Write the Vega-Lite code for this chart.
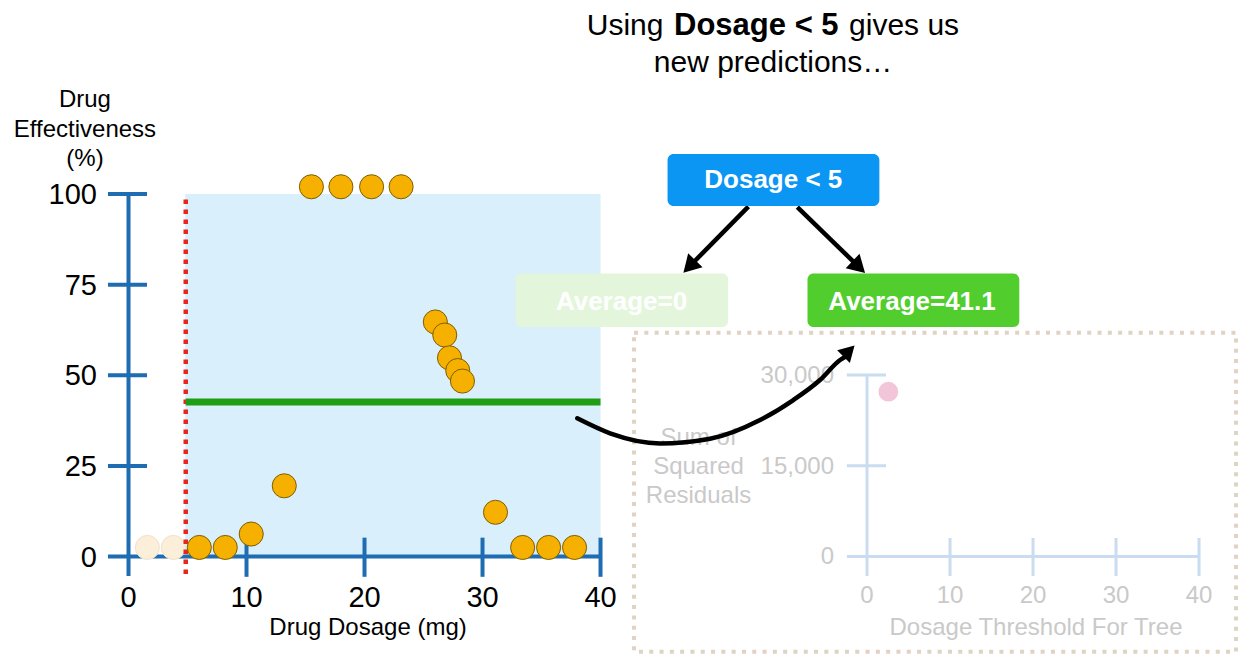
{
  "$schema": "https://vega.github.io/schema/vega-lite/v6.json",
  "width": 1248,
  "height": 669,
  "autosize": {"type": "fit", "contains": "padding"},
  "padding": 0,
  "background": "#ffffff",
  "config": {"view": {"stroke": null}, "font": "Liberation Sans"},
  "datasets": {
    "one": [{}],
    "drug": [
      {"dosage": 1.6, "effectiveness": 2.5},
      {"dosage": 3.8, "effectiveness": 2.5},
      {"dosage": 6.0, "effectiveness": 2.5},
      {"dosage": 8.2, "effectiveness": 2.5},
      {"dosage": 10.4, "effectiveness": 6.2},
      {"dosage": 13.2, "effectiveness": 19.5},
      {"dosage": 15.5, "effectiveness": 102},
      {"dosage": 18.0, "effectiveness": 102},
      {"dosage": 20.6, "effectiveness": 102},
      {"dosage": 23.1, "effectiveness": 102},
      {"dosage": 26.0, "effectiveness": 64.7},
      {"dosage": 26.8, "effectiveness": 61.1},
      {"dosage": 27.2, "effectiveness": 54.8},
      {"dosage": 27.9, "effectiveness": 51.3},
      {"dosage": 28.3, "effectiveness": 48.4},
      {"dosage": 31.1, "effectiveness": 12.2},
      {"dosage": 33.4, "effectiveness": 2.5},
      {"dosage": 35.6, "effectiveness": 2.5},
      {"dosage": 37.8, "effectiveness": 2.5}
    ],
    "ssr": [{"threshold": 2.57, "ssr": 27240}],
    "curve": [
      {"x": 38.03, "y": 38.12},
      {"x": 40.81, "y": 33.99},
      {"x": 45.04, "y": 31.2},
      {"x": 49.28, "y": 32.5},
      {"x": 53.52, "y": 37.66},
      {"x": 56.34, "y": 43.17},
      {"x": 58.6, "y": 48.69},
      {"x": 60.3, "y": 54.21},
      {"x": 60.9, "y": 55.4}
    ]
  },
  "resolve": {"scale": {"x": "independent", "y": "independent"}},
  "layer": [
    {
      "layer": [
        {
          "data": {"name": "one"},
          "mark": {"type": "rect", "color": "#d9effc"},
          "encoding": {
            "x": {"datum": 4.8, "type": "quantitative", "scale": {"domain": [-10.89, 94.87], "nice": false, "zero": false}, "axis": null},
            "x2": {"datum": 40},
            "y": {"datum": 0, "type": "quantitative", "scale": {"domain": [-31.03, 153.52], "nice": false, "zero": false}, "axis": null},
            "y2": {"datum": 100}
          }
        },
        {
          "data": {"name": "one"},
          "mark": {"type": "rule", "color": "#1e6db3", "strokeWidth": 4},
          "encoding": {
            "x": {"datum": 0, "type": "quantitative", "scale": {"domain": [-10.89, 94.87], "nice": false, "zero": false}, "axis": null},
            "y": {"datum": -5.4, "type": "quantitative", "scale": {"domain": [-31.03, 153.52], "nice": false, "zero": false}, "axis": null},
            "y2": {"datum": 100}
          }
        },
        {
          "data": {"name": "one"},
          "mark": {"type": "rule", "color": "#1e6db3", "strokeWidth": 4},
          "encoding": {
            "x": {"datum": -1.74, "type": "quantitative", "scale": {"domain": [-10.89, 94.87], "nice": false, "zero": false}, "axis": null},
            "x2": {"datum": 40},
            "y": {"datum": 0, "type": "quantitative", "scale": {"domain": [-31.03, 153.52], "nice": false, "zero": false}, "axis": null}
          }
        },
        {
          "data": {"values": [{"effectiveness": 25}, {"effectiveness": 50}, {"effectiveness": 75}, {"effectiveness": 100}]},
          "mark": {"type": "rule", "color": "#1e6db3", "strokeWidth": 4},
          "encoding": {
            "x": {"datum": -1.74, "type": "quantitative", "scale": {"domain": [-10.89, 94.87], "nice": false, "zero": false}, "axis": null},
            "x2": {"datum": 1.57},
            "y": {"field": "effectiveness", "type": "quantitative", "scale": {"domain": [-31.03, 153.52], "nice": false, "zero": false}, "axis": null}
          }
        },
        {
          "data": {"values": [{"dosage": 10}, {"dosage": 20}, {"dosage": 30}, {"dosage": 40}]},
          "mark": {"type": "rule", "color": "#1e6db3", "strokeWidth": 4},
          "encoding": {
            "x": {"field": "dosage", "type": "quantitative", "scale": {"domain": [-10.89, 94.87], "nice": false, "zero": false}, "axis": null},
            "y": {"datum": -5.6, "type": "quantitative", "scale": {"domain": [-31.03, 153.52], "nice": false, "zero": false}, "axis": null},
            "y2": {"datum": 5.2}
          }
        },
        {
          "data": {"name": "drug"},
          "transform": [{"filter": "datum.dosage < 5"}],
          "mark": {"type": "point", "filled": true, "opacity": 1, "fill": "#fcefd9", "stroke": "#f0e2c8", "strokeWidth": 1, "size": 580},
          "encoding": {
            "x": {"field": "dosage", "type": "quantitative", "scale": {"domain": [-10.89, 94.87], "nice": false, "zero": false}, "axis": null},
            "y": {"field": "effectiveness", "type": "quantitative", "scale": {"domain": [-31.03, 153.52], "nice": false, "zero": false}, "axis": null}
          }
        },
        {
          "data": {"name": "one"},
          "mark": {"type": "rule", "color": "#e8261d", "strokeWidth": 4.5, "strokeDash": [4.5, 5.5]},
          "encoding": {
            "x": {"datum": 4.85, "type": "quantitative", "scale": {"domain": [-10.89, 94.87], "nice": false, "zero": false}, "axis": null},
            "y": {"datum": -4.8, "type": "quantitative", "scale": {"domain": [-31.03, 153.52], "nice": false, "zero": false}, "axis": null},
            "y2": {"datum": 99}
          }
        },
        {
          "data": {"name": "one"},
          "mark": {"type": "rule", "color": "#1f9e14", "strokeWidth": 7},
          "encoding": {
            "x": {"datum": 4.85, "type": "quantitative", "scale": {"domain": [-10.89, 94.87], "nice": false, "zero": false}, "axis": null},
            "x2": {"datum": 40},
            "y": {"datum": 42.6, "type": "quantitative", "scale": {"domain": [-31.03, 153.52], "nice": false, "zero": false}, "axis": null}
          }
        },
        {
          "data": {"name": "drug"},
          "transform": [{"filter": "datum.dosage >= 5"}],
          "mark": {"type": "point", "filled": true, "opacity": 1, "fill": "#f5b000", "stroke": "#7d5e00", "strokeWidth": 1, "size": 580},
          "encoding": {
            "x": {"field": "dosage", "type": "quantitative", "scale": {"domain": [-10.89, 94.87], "nice": false, "zero": false}, "axis": null},
            "y": {"field": "effectiveness", "type": "quantitative", "scale": {"domain": [-31.03, 153.52], "nice": false, "zero": false}, "axis": null}
          }
        },
        {
          "data": {"values": [{"effectiveness": 0}, {"effectiveness": 25}, {"effectiveness": 50}, {"effectiveness": 75}, {"effectiveness": 100}]},
          "mark": {"type": "text", "align": "right", "baseline": "alphabetic", "dy": 10, "fontSize": 29, "color": "#000000"},
          "encoding": {
            "x": {"datum": -2.67, "type": "quantitative", "scale": {"domain": [-10.89, 94.87], "nice": false, "zero": false}, "axis": null},
            "y": {"field": "effectiveness", "type": "quantitative", "scale": {"domain": [-31.03, 153.52], "nice": false, "zero": false}, "axis": null},
            "text": {"field": "effectiveness", "type": "quantitative", "format": "d"}
          }
        },
        {
          "data": {"values": [{"dosage": 0}, {"dosage": 10}, {"dosage": 20}, {"dosage": 30}, {"dosage": 40}]},
          "mark": {"type": "text", "align": "center", "baseline": "alphabetic", "fontSize": 29, "color": "#000000"},
          "encoding": {
            "x": {"field": "dosage", "type": "quantitative", "scale": {"domain": [-10.89, 94.87], "nice": false, "zero": false}, "axis": null},
            "y": {"datum": -13.9, "type": "quantitative", "scale": {"domain": [-31.03, 153.52], "nice": false, "zero": false}, "axis": null},
            "text": {"field": "dosage", "type": "quantitative", "format": "d"}
          }
        },
        {
          "data": {"name": "one"},
          "mark": {"type": "text", "align": "center", "baseline": "alphabetic", "fontSize": 24, "color": "#000000"},
          "encoding": {
            "x": {"datum": 20.3, "type": "quantitative", "scale": {"domain": [-10.89, 94.87], "nice": false, "zero": false}, "axis": null},
            "y": {"datum": -21.66, "type": "quantitative", "scale": {"domain": [-31.03, 153.52], "nice": false, "zero": false}, "axis": null},
            "text": {"value": "Drug Dosage (mg)"}
          }
        },
        {
          "data": {"name": "one"},
          "mark": {"type": "text", "align": "center", "baseline": "alphabetic", "fontSize": 24, "lineHeight": 29.4, "color": "#000000"},
          "encoding": {
            "x": {"datum": -3.69, "type": "quantitative", "scale": {"domain": [-10.89, 94.87], "nice": false, "zero": false}, "axis": null},
            "y": {"datum": 123.92, "type": "quantitative", "scale": {"domain": [-31.03, 153.52], "nice": false, "zero": false}, "axis": null},
            "text": {"value": ["Drug", "Effectiveness", "(%)"]}
          }
        }
      ]
    },
    {
      "layer": [
        {
          "data": {"name": "one"},
          "mark": {"type": "rect", "fill": "#ffffff", "fillOpacity": 0, "stroke": "#e0d3c2", "strokeWidth": 4, "strokeDash": [4, 6.3]},
          "encoding": {
            "x": {"datum": -28.07, "type": "quantitative", "scale": {"domain": [-104.46, 45.9], "nice": false, "zero": false}, "axis": null},
            "x2": {"datum": 44.46},
            "y": {"datum": 36992, "type": "quantitative", "scale": {"domain": [-18595, 91983], "nice": false, "zero": false}, "axis": null},
            "y2": {"datum": -15736}
          }
        },
        {
          "data": {"name": "one"},
          "mark": {"type": "rule", "color": "#c9dcf0", "strokeWidth": 3},
          "encoding": {
            "x": {"datum": 0, "type": "quantitative", "scale": {"domain": [-104.46, 45.9], "nice": false, "zero": false}, "axis": null},
            "y": {"datum": -3223, "type": "quantitative", "scale": {"domain": [-18595, 91983], "nice": false, "zero": false}, "axis": null},
            "y2": {"datum": 30000}
          }
        },
        {
          "data": {"name": "one"},
          "mark": {"type": "rule", "color": "#c9dcf0", "strokeWidth": 3},
          "encoding": {
            "x": {"datum": -2.43, "type": "quantitative", "scale": {"domain": [-104.46, 45.9], "nice": false, "zero": false}, "axis": null},
            "x2": {"datum": 40},
            "y": {"datum": 0, "type": "quantitative", "scale": {"domain": [-18595, 91983], "nice": false, "zero": false}, "axis": null}
          }
        },
        {
          "data": {"values": [{"ssr": 15000}, {"ssr": 30000}]},
          "mark": {"type": "rule", "color": "#c9dcf0", "strokeWidth": 3},
          "encoding": {
            "x": {"datum": -2.43, "type": "quantitative", "scale": {"domain": [-104.46, 45.9], "nice": false, "zero": false}, "axis": null},
            "x2": {"datum": 2.29},
            "y": {"field": "ssr", "type": "quantitative", "scale": {"domain": [-18595, 91983], "nice": false, "zero": false}, "axis": null}
          }
        },
        {
          "data": {"values": [{"threshold": 10}, {"threshold": 20}, {"threshold": 30}, {"threshold": 40}]},
          "mark": {"type": "rule", "color": "#c9dcf0", "strokeWidth": 3},
          "encoding": {
            "x": {"field": "threshold", "type": "quantitative", "scale": {"domain": [-104.46, 45.9], "nice": false, "zero": false}, "axis": null},
            "y": {"datum": -3223, "type": "quantitative", "scale": {"domain": [-18595, 91983], "nice": false, "zero": false}, "axis": null},
            "y2": {"datum": 3058}
          }
        },
        {
          "data": {"name": "ssr"},
          "mark": {"type": "point", "filled": true, "opacity": 1, "fill": "#f3c5d9", "strokeWidth": 0, "size": 390},
          "encoding": {
            "x": {"field": "threshold", "type": "quantitative", "scale": {"domain": [-104.46, 45.9], "nice": false, "zero": false}, "axis": null},
            "y": {"field": "ssr", "type": "quantitative", "scale": {"domain": [-18595, 91983], "nice": false, "zero": false}, "axis": null}
          }
        },
        {
          "data": {"values": [{"ssr": 0}, {"ssr": 15000}, {"ssr": 30000}]},
          "mark": {"type": "text", "align": "right", "baseline": "alphabetic", "dy": 8, "fontSize": 24, "color": "#c9c9c9"},
          "encoding": {
            "x": {"datum": -3.98, "type": "quantitative", "scale": {"domain": [-104.46, 45.9], "nice": false, "zero": false}, "axis": null},
            "y": {"field": "ssr", "type": "quantitative", "scale": {"domain": [-18595, 91983], "nice": false, "zero": false}, "axis": null},
            "text": {"field": "ssr", "type": "quantitative", "format": ","}
          }
        },
        {
          "data": {"values": [{"threshold": 0}, {"threshold": 10}, {"threshold": 20}, {"threshold": 30}, {"threshold": 40}]},
          "mark": {"type": "text", "align": "center", "baseline": "alphabetic", "fontSize": 24, "color": "#c9c9c9"},
          "encoding": {
            "x": {"field": "threshold", "type": "quantitative", "scale": {"domain": [-104.46, 45.9], "nice": false, "zero": false}, "axis": null},
            "y": {"datum": -7736, "type": "quantitative", "scale": {"domain": [-18595, 91983], "nice": false, "zero": false}, "axis": null},
            "text": {"field": "threshold", "type": "quantitative", "format": "d"}
          }
        },
        {
          "data": {"name": "one"},
          "mark": {"type": "text", "align": "center", "baseline": "alphabetic", "fontSize": 24, "color": "#c9c9c9"},
          "encoding": {
            "x": {"datum": 20.36, "type": "quantitative", "scale": {"domain": [-104.46, 45.9], "nice": false, "zero": false}, "axis": null},
            "y": {"datum": -12975, "type": "quantitative", "scale": {"domain": [-18595, 91983], "nice": false, "zero": false}, "axis": null},
            "text": {"value": "Dosage Threshold For Tree"}
          }
        },
        {
          "data": {"name": "one"},
          "mark": {"type": "text", "align": "center", "baseline": "alphabetic", "fontSize": 24, "lineHeight": 29, "color": "#c9c9c9"},
          "encoding": {
            "x": {"datum": -20.3, "type": "quantitative", "scale": {"domain": [-104.46, 45.9], "nice": false, "zero": false}, "axis": null},
            "y": {"datum": 18430, "type": "quantitative", "scale": {"domain": [-18595, 91983], "nice": false, "zero": false}, "axis": null},
            "text": {"value": ["Sum of", "Squared", "Residuals"]}
          }
        }
      ]
    },
    {
      "layer": [
        {
          "data": {"name": "one"},
          "mark": {"type": "text", "align": "left", "baseline": "alphabetic", "fontSize": 30, "color": "#000000"},
          "encoding": {
            "x": {"datum": 38.83, "type": "quantitative", "scale": {"domain": [-10.89, 94.87], "nice": false, "zero": false}, "axis": null},
            "y": {"datum": 143.86, "type": "quantitative", "scale": {"domain": [-31.03, 153.52], "nice": false, "zero": false}, "axis": null},
            "text": {"value": "Using"}
          }
        },
        {
          "data": {"name": "one"},
          "mark": {"type": "text", "align": "left", "baseline": "alphabetic", "fontSize": 31, "fontWeight": "bold", "color": "#000000"},
          "encoding": {
            "x": {"datum": 46.23, "type": "quantitative", "scale": {"domain": [-10.89, 94.87], "nice": false, "zero": false}, "axis": null},
            "y": {"datum": 143.86, "type": "quantitative", "scale": {"domain": [-31.03, 153.52], "nice": false, "zero": false}, "axis": null},
            "text": {"value": "Dosage < 5"}
          }
        },
        {
          "data": {"name": "one"},
          "mark": {"type": "text", "align": "left", "baseline": "alphabetic", "fontSize": 30, "color": "#000000"},
          "encoding": {
            "x": {"datum": 61.06, "type": "quantitative", "scale": {"domain": [-10.89, 94.87], "nice": false, "zero": false}, "axis": null},
            "y": {"datum": 143.86, "type": "quantitative", "scale": {"domain": [-31.03, 153.52], "nice": false, "zero": false}, "axis": null},
            "text": {"value": "gives us"}
          }
        },
        {
          "data": {"name": "one"},
          "mark": {"type": "text", "align": "center", "baseline": "alphabetic", "fontSize": 30, "color": "#000000"},
          "encoding": {
            "x": {"datum": 54.62, "type": "quantitative", "scale": {"domain": [-10.89, 94.87], "nice": false, "zero": false}, "axis": null},
            "y": {"datum": 133.74, "type": "quantitative", "scale": {"domain": [-31.03, 153.52], "nice": false, "zero": false}, "axis": null},
            "text": {"value": "new predictions…"}
          }
        },
        {
          "data": {"name": "one"},
          "mark": {"type": "rule", "color": "#000000", "strokeWidth": 4.5},
          "encoding": {
            "x": {"datum": 52.53, "type": "quantitative", "scale": {"domain": [-10.89, 94.87], "nice": false, "zero": false}, "axis": null},
            "x2": {"datum": 47.53},
            "y": {"datum": 96.5, "type": "quantitative", "scale": {"domain": [-31.03, 153.52], "nice": false, "zero": false}, "axis": null},
            "y2": {"datum": 80.0}
          }
        },
        {
          "data": {"name": "one"},
          "mark": {"type": "rule", "color": "#000000", "strokeWidth": 4.5},
          "encoding": {
            "x": {"datum": 56.68, "type": "quantitative", "scale": {"domain": [-10.89, 94.87], "nice": false, "zero": false}, "axis": null},
            "x2": {"datum": 61.89},
            "y": {"datum": 96.41, "type": "quantitative", "scale": {"domain": [-31.03, 153.52], "nice": false, "zero": false}, "axis": null},
            "y2": {"datum": 79.88}
          }
        },
        {
          "data": {"name": "one"},
          "mark": {"type": "point", "shape": "triangle-up", "filled": true, "opacity": 1, "color": "#000000", "size": 400, "angle": 224},
          "encoding": {
            "x": {"datum": 47.53, "type": "quantitative", "scale": {"domain": [-10.89, 94.87], "nice": false, "zero": false}, "axis": null},
            "y": {"datum": 80.0, "type": "quantitative", "scale": {"domain": [-31.03, 153.52], "nice": false, "zero": false}, "axis": null}
          }
        },
        {
          "data": {"name": "one"},
          "mark": {"type": "point", "shape": "triangle-up", "filled": true, "opacity": 1, "color": "#000000", "size": 400, "angle": 134},
          "encoding": {
            "x": {"datum": 61.89, "type": "quantitative", "scale": {"domain": [-10.89, 94.87], "nice": false, "zero": false}, "axis": null},
            "y": {"datum": 79.88, "type": "quantitative", "scale": {"domain": [-31.03, 153.52], "nice": false, "zero": false}, "axis": null}
          }
        },
        {
          "data": {"name": "one"},
          "mark": {"type": "rect", "color": "#0b96f4", "cornerRadius": 6},
          "encoding": {
            "x": {"datum": 45.68, "type": "quantitative", "scale": {"domain": [-10.89, 94.87], "nice": false, "zero": false}, "axis": null},
            "x2": {"datum": 63.63},
            "y": {"datum": 111.03, "type": "quantitative", "scale": {"domain": [-31.03, 153.52], "nice": false, "zero": false}, "axis": null},
            "y2": {"datum": 96.69}
          }
        },
        {
          "data": {"name": "one"},
          "mark": {"type": "text", "align": "center", "baseline": "alphabetic", "fontSize": 26, "fontWeight": "bold", "color": "#ffffff"},
          "encoding": {
            "x": {"datum": 54.64, "type": "quantitative", "scale": {"domain": [-10.89, 94.87], "nice": false, "zero": false}, "axis": null},
            "y": {"datum": 101.57, "type": "quantitative", "scale": {"domain": [-31.03, 153.52], "nice": false, "zero": false}, "axis": null},
            "text": {"value": "Dosage < 5"}
          }
        },
        {
          "data": {"name": "one"},
          "mark": {"type": "rect", "color": "#e3f6dc", "cornerRadius": 6},
          "encoding": {
            "x": {"datum": 32.8, "type": "quantitative", "scale": {"domain": [-10.89, 94.87], "nice": false, "zero": false}, "axis": null},
            "x2": {"datum": 50.82},
            "y": {"datum": 78.07, "type": "quantitative", "scale": {"domain": [-31.03, 153.52], "nice": false, "zero": false}, "axis": null},
            "y2": {"datum": 63.31}
          }
        },
        {
          "data": {"name": "one"},
          "mark": {"type": "text", "align": "center", "baseline": "alphabetic", "fontSize": 26, "fontWeight": "bold", "color": "#ffffff"},
          "encoding": {
            "x": {"datum": 41.78, "type": "quantitative", "scale": {"domain": [-10.89, 94.87], "nice": false, "zero": false}, "axis": null},
            "y": {"datum": 68.0, "type": "quantitative", "scale": {"domain": [-31.03, 153.52], "nice": false, "zero": false}, "axis": null},
            "text": {"value": "Average=0"}
          }
        },
        {
          "data": {"name": "one"},
          "mark": {"type": "rect", "color": "#52cd2e", "cornerRadius": 6},
          "encoding": {
            "x": {"datum": 57.54, "type": "quantitative", "scale": {"domain": [-10.89, 94.87], "nice": false, "zero": false}, "axis": null},
            "x2": {"datum": 75.49},
            "y": {"datum": 78.07, "type": "quantitative", "scale": {"domain": [-31.03, 153.52], "nice": false, "zero": false}, "axis": null},
            "y2": {"datum": 63.31}
          }
        },
        {
          "data": {"name": "one"},
          "mark": {"type": "text", "align": "center", "baseline": "alphabetic", "fontSize": 26, "fontWeight": "bold", "color": "#ffffff"},
          "encoding": {
            "x": {"datum": 66.4, "type": "quantitative", "scale": {"domain": [-10.89, 94.87], "nice": false, "zero": false}, "axis": null},
            "y": {"datum": 68.0, "type": "quantitative", "scale": {"domain": [-31.03, 153.52], "nice": false, "zero": false}, "axis": null},
            "text": {"value": "Average=41.1"}
          }
        },
        {
          "data": {"name": "curve"},
          "mark": {"type": "line", "color": "#000000", "strokeWidth": 4.5, "interpolate": "monotone", "strokeCap": "round"},
          "encoding": {
            "x": {"field": "x", "type": "quantitative", "scale": {"domain": [-10.89, 94.87], "nice": false, "zero": false}, "axis": null},
            "y": {"field": "y", "type": "quantitative", "scale": {"domain": [-31.03, 153.52], "nice": false, "zero": false}, "axis": null}
          }
        },
        {
          "data": {"name": "one"},
          "mark": {"type": "point", "shape": "triangle-up", "filled": true, "opacity": 1, "color": "#000000", "size": 324, "angle": 45},
          "encoding": {
            "x": {"datum": 61.06, "type": "quantitative", "scale": {"domain": [-10.89, 94.87], "nice": false, "zero": false}, "axis": null},
            "y": {"datum": 56.69, "type": "quantitative", "scale": {"domain": [-31.03, 153.52], "nice": false, "zero": false}, "axis": null}
          }
        }
      ]
    }
  ]
}
